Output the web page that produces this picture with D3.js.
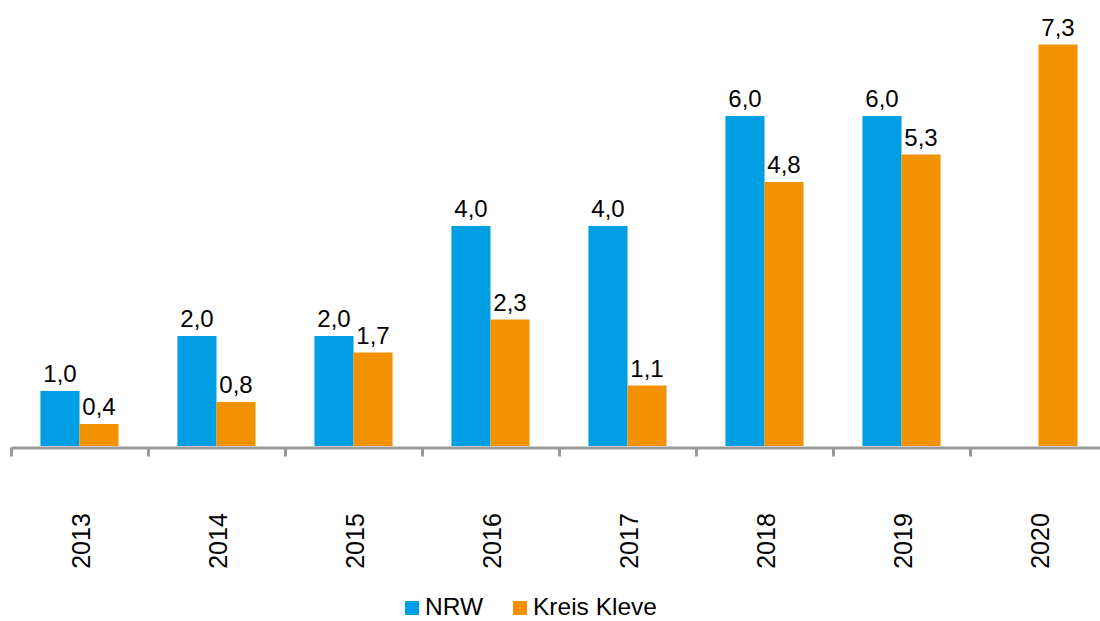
<!DOCTYPE html>
<html>
<head>
<meta charset="utf-8">
<script src="https://cdn.jsdelivr.net/npm/d3@7"></script>
<style>
  body { margin: 0; background: #fff; }
  text { font-family: "Liberation Sans", Arial, sans-serif; fill: #000; }
</style>
</head>
<body>
<div id="chart"></div>
<script>
// data
let years = ["2013", "2014", "2015", "2016", "2017", "2018", "2019", "2020"];
let nrw = [1.0, 2.0, 2.0, 4.0, 4.0, 6.0, 6.0, null];
let kleve = [0.4, 0.8, 1.7, 2.3, 1.1, 4.8, 5.3, 7.3];
let seriesNames = ["NRW", "Kreis Kleve"];
let colors = ["#009fe3", "#f39200"];

let W = 1100, H = 621;
let m = {left: 11, right: -7, top: 6, bottom: 175};
let w = W - m.left - m.right;
let h = H - m.top - m.bottom;

let svg = d3.select("#chart")
    .append("svg")
    .attr("width", W)
    .attr("height", H);

let g = svg.append("g")
    .attr("transform", "translate(" + m.left + "," + m.top + ")");

// scales
let x = d3.scaleBand()
    .domain(years)
    .range([0, w])
    .paddingInner(0)
    .paddingOuter(0);

let barW = x.bandwidth() * 0.285;
let x1 = d3.scaleBand()
    .domain(seriesNames)
    .range([x.bandwidth() / 2 - barW, x.bandwidth() / 2 + barW]);

let y = d3.scaleLinear()
    .domain([0, 8])
    .range([h, 0]);

let fmt = v => d3.format(".1f")(v).replace(".", ",");

let rows = years.map((yr, i) => ({year: yr, vals: [nrw[i], kleve[i]]}));

// bars
let groups = g.selectAll(".grp")
    .data(rows)
    .enter()
    .append("g")
    .attr("transform", d => "translate(" + x(d.year) + ",0)");

groups.selectAll("rect")
    .data(d => d.vals.map((v, k) => ({name: seriesNames[k], v: v, k: k})).filter(e => e.v !== null))
    .enter()
    .append("rect")
    .attr("x", d => x1(d.name))
    .attr("y", d => y(d.v))
    .attr("width", x1.bandwidth())
    .attr("height", d => y(0) - y(d.v))
    .style("fill", d => colors[d.k]);

// value labels
groups.selectAll(".lbl")
    .data(d => d.vals.map((v, k) => ({name: seriesNames[k], v: v})).filter(e => e.v !== null))
    .enter()
    .append("text")
    .attr("x", d => x1(d.name) + x1.bandwidth() / 2)
    .attr("y", d => y(d.v) - 9)
    .attr("text-anchor", "middle")
    .style("font-size", "24px")
    .text(d => fmt(d.v));

// axis with ticks at category boundaries
let xb = d3.scaleLinear().domain([0, years.length]).range([0, w]);
let axis = g.append("g")
    .attr("transform", "translate(0," + (h + 1.5) + ")")
    .call(d3.axisBottom(xb).tickValues(d3.range(0, years.length + 1)).tickSize(9).tickSizeOuter(0).tickFormat(""));
axis.select(".domain").attr("stroke", "#999").attr("stroke-width", 3);
axis.selectAll(".tick line").attr("stroke", "#999").attr("stroke-width", 3);

// year labels rotated
g.selectAll(".yr")
    .data(years)
    .enter()
    .append("text")
    .attr("transform", d => "translate(" + (x(d) + x.bandwidth() / 2 + 10) + "," + (h + 95) + ") rotate(-90)")
    .attr("text-anchor", "middle")
    .style("font-size", "25px")
    .text(d => d);

// legend
let legend = svg.append("g").attr("transform", "translate(405,601)");
let legX = [0, 108];
seriesNames.forEach((s, i) => {
    legend.append("rect")
        .attr("x", legX[i])
        .attr("y", 0)
        .attr("width", 14)
        .attr("height", 14)
        .style("fill", colors[i]);
    legend.append("text")
        .attr("x", legX[i] + 20)
        .attr("y", 14)
        .style("font-size", "24.5px")
        .text(s);
});
</script>
</body>
</html>
